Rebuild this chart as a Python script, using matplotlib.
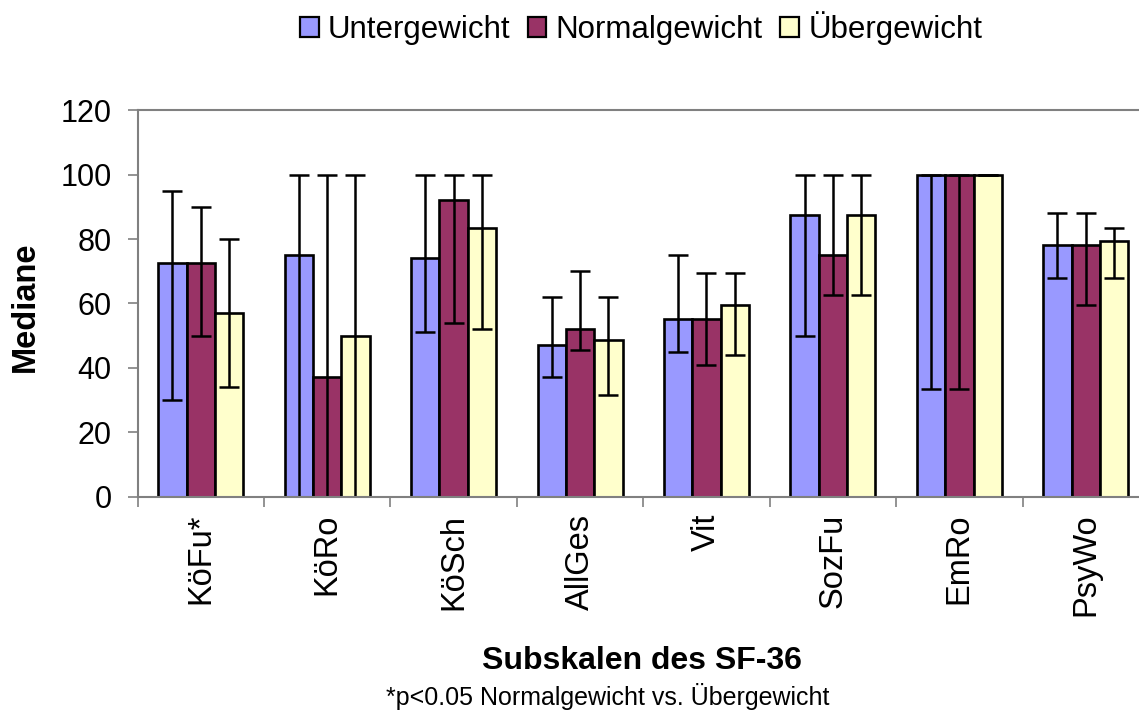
import matplotlib
matplotlib.use('Agg')
import matplotlib.pyplot as plt
import numpy as np
from matplotlib.patches import Patch

plt.rcParams['font.family'] = ['Liberation Sans', 'DejaVu Sans']

categories = ['KöFu*', 'KöRo', 'KöSch', 'AllGes', 'Vit', 'SozFu', 'EmRo', 'PsyWo']
series = ['Untergewicht', 'Normalgewicht', 'Übergewicht']

under_med = [72.5, 75, 74, 47, 55, 87.5, 100, 78]
under_lo = [30, 0, 51, 37, 45, 50, 33.3, 68]
under_hi = [95, 100, 100, 62, 75, 100, 100, 88]

normal_med = [72.5, 37, 92, 52, 55, 75, 100, 78]
normal_lo = [50, 0, 54, 45.5, 41, 62.5, 33.3, 59.5]
normal_hi = [90, 100, 100, 70, 69.5, 100, 100, 88]

over_med = [57, 50, 83.5, 48.5, 59.5, 87.5, 100, 79.5]
over_lo = [34, 0, 52, 31.5, 44, 62.5, 100, 68]
over_hi = [80, 100, 100, 62, 69.5, 100, 100, 83.5]

colors = ['#9999FF', '#993366', '#FFFFCC']

W, H = 1139, 713
fig = plt.figure(figsize=(W / 100, H / 100), dpi=100)
left, right, top, bottom = 137.5, 1149, 110.3, 496.5
ax = fig.add_axes([left / W, 1 - bottom / H, (right - left) / W, (bottom - top) / H])

x = np.arange(len(categories))
bw = 0.224
meds = [under_med, normal_med, over_med]
los = [under_lo, normal_lo, over_lo]
his = [under_hi, normal_hi, over_hi]
for i in range(3):
    xs = x + (i - 1) * bw
    m = np.array(meds[i], dtype=float)
    lo = np.array(los[i], dtype=float)
    hi = np.array(his[i], dtype=float)
    ax.bar(xs, m, width=bw, color=colors[i], edgecolor='black', linewidth=1.9, zorder=2)
    ax.errorbar(xs, m, yerr=[m - lo, hi - m], fmt='none', ecolor='black',
                elinewidth=1.8, capsize=7, capthick=1.8, zorder=3)

ax.set_xlim(-0.5, len(categories) - 0.5)
ax.set_ylim(0, 120)
ax.set_yticks(np.arange(0, 121, 20))
ax.tick_params(axis='y', labelsize=22, length=7, width=1.2, color='#808080', pad=11.5)

ax.set_xticks(np.arange(-0.5, len(categories), 1))
ax.set_xticklabels([])
ax.set_xticks(x, minor=True)
ax.set_xticklabels(categories, minor=True, rotation=90, fontsize=23.5, va='top', ha='center')
ax.tick_params(axis='x', which='major', length=7, width=1.2, color='#808080')
ax.tick_params(axis='x', which='minor', length=0, pad=12.5)

for s in ['top', 'left', 'bottom', 'right']:
    ax.spines[s].set_color('#808080')
    ax.spines[s].set_linewidth(1.5)
    ax.spines[s].set_zorder(4)

fig.text(25 / W, 1 - 307 / H, 'Mediane', rotation=90, ha='center', va='center',
         fontsize=23.5, fontweight='bold')
fig.text(642 / W, 1 - 661 / H, 'Subskalen des SF-36', ha='center', va='center',
         fontsize=23, fontweight='bold')
fig.text(608 / W, 1 - 697 / H, '*p<0.05 Normalgewicht vs. Übergewicht', ha='center', va='center',
         fontsize=18)

handles = [Patch(facecolor=c, edgecolor='black', linewidth=1.6) for c in colors]
fig.legend(handles, series, loc='center', bbox_to_anchor=(641 / W, 1 - 28 / H), ncol=3,
           frameon=False, fontsize=22.5, handlelength=0.6, handleheight=0.6,
           handletextpad=0.3, columnspacing=0.55, borderaxespad=0)

fig.savefig('out.png', dpi=100)
